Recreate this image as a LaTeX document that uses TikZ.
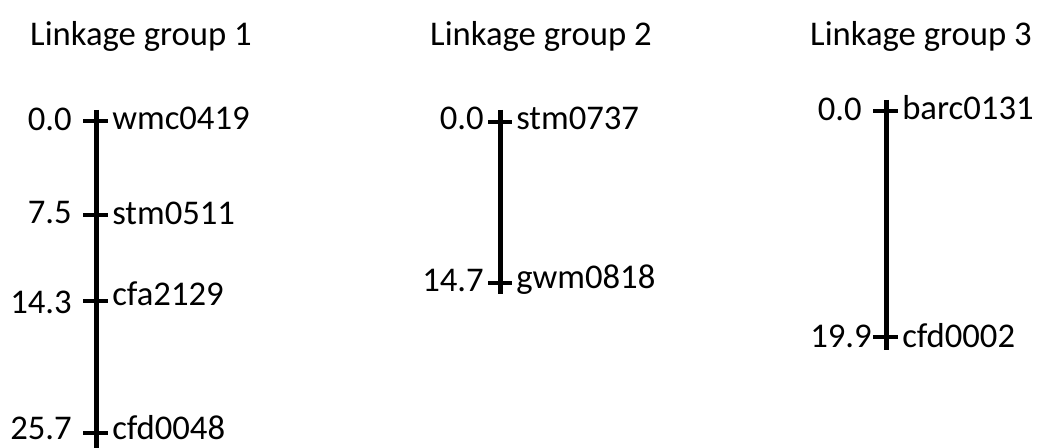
\documentclass[tikz,border=0pt]{standalone}
\usepackage{fontspec}
\setmainfont{Carlito}
\begin{document}
\begin{tikzpicture}[x=0.75pt,y=-0.75pt,
  lbl/.style={font=\fontsize{26}{31}\selectfont, inner sep=0pt, text=black},
  title/.style={lbl},
  chrom/.style={line width=3.75pt},
  tick/.style={line width=3pt}]
\useasboundingbox (0,0) rectangle (1040,448);
% titles
\node[title] (t1) at (141,36) {Linkage group 1};
\node[title] (t2) at (541,36) {Linkage group 2};
\node[title] (t3) at (921,36) {Linkage group 3};
% group 1
\coordinate (g1top) at (96,110);
\coordinate (g1bot) at (96,448);
\draw[chrom] (g1top) -- (g1bot);
\foreach \y/\py/\my/\p/\m/\n in {121/119/118/0.0/wmc0419/a, 215/213/213/7.5/stm0511/b, 301/302/294/14.3/cfa2129/c, 433/428/428/25.7/cfd0048/d}{
  \coordinate (g1l\n) at (83,\y);
  \coordinate (g1r\n) at (108,\y);
  \draw[tick] (g1l\n) -- (g1r\n);
  \node[lbl, anchor=east] (g1p\n) at (72,\py) {\p};
  \node[lbl, anchor=west] (g1m\n) at (112,\my) {\m};
}
% group 2
\coordinate (g2top) at (500,110);
\coordinate (g2bot) at (500,294);
\draw[chrom] (g2top) -- (g2bot);
\foreach \y/\ty/\p/\m/\n in {122/118.5/0.0/stm0737/a, 283/280/14.7/gwm0818/b}{
  \coordinate (g2l\n) at (488,\y);
  \coordinate (g2r\n) at (512,\y);
  \draw[tick] (g2l\n) -- (g2r\n);
  \node[lbl, anchor=east] (g2p\n) at (484,\ty) {\p};
  \node[lbl, anchor=west] (g2m\n) at (516,\ty) {\m};
}
% group 3
\coordinate (g3top) at (886,100);
\coordinate (g3bot) at (886,350);
\draw[chrom] (g3top) -- (g3bot);
\coordinate (g3la) at (873,111);
\coordinate (g3ra) at (898,111);
\draw[tick] (g3la) -- (g3ra);
\node[lbl, anchor=east] (g3pa) at (862,109) {0.0};
\node[lbl, anchor=west] (g3ma) at (902,108) {barc0131};
\coordinate (g3lb) at (873,337);
\coordinate (g3rb) at (898,337);
\draw[tick] (g3lb) -- (g3rb);
\node[lbl, anchor=east] (g3pb) at (872,336) {19.9};
\node[lbl, anchor=west] (g3mb) at (902,336) {cfd0002};
\end{tikzpicture}
\end{document}
